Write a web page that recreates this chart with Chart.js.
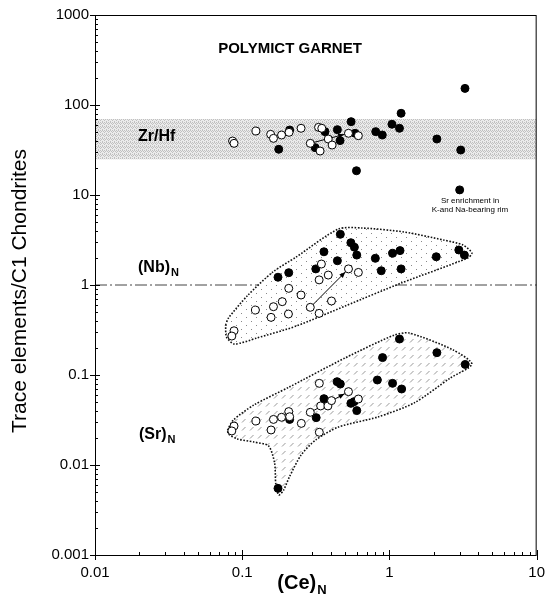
<!DOCTYPE html>
<html><head><meta charset="utf-8">
<script src="https://cdn.jsdelivr.net/npm/chart.js@4.4.1/dist/chart.umd.min.js"></script>
<style>html,body{margin:0;padding:0;background:#fff}canvas{display:block}</style>
</head><body>
<canvas id="c" width="554" height="605"></canvas>
<script>
// ---- tick labels ----
const xTickLabels = ['0.01','0.1','1','10'];
const yTickLabels = ['0.001','0.01','0.1','1','10','100','1000'];

// ---- data: [(Ce)N, value] ----
const zrHfOpen = [[0.086,39.8],[0.088,37.5],[0.124,51.4],[0.156,47.2],[0.163,42.6],[0.185,46.4],[0.208,49.7],[0.251,55.1],[0.330,56.5],[0.347,55.1],[0.290,37.5],[0.338,30.8],[0.384,41.9],[0.408,35.9],[0.527,48.5],[0.615,45.6]];
const zrHfClosed = [[0.177,32.2],[0.210,52.7],[0.313,33.6],[0.365,50.6],[0.443,53.2],[0.462,40.2],[0.549,65.3],[0.584,48.5],[0.597,18.6],[0.807,50.6],[0.894,46.4],[1.04,61.1],[1.17,55.1],[1.20,80.9],[2.10,41.9],[3.05,31.6],[3.26,153],[3.0,11.4]];

const nbOpen = [[0.088,0.310],[0.085,0.271],[0.123,0.527],[0.163,0.574],[0.157,0.437],[0.187,0.653],[0.207,0.918],[0.206,0.476],[0.251,0.774],[0.290,0.565],[0.333,0.484],[0.333,1.14],[0.345,1.71],[0.384,1.29],[0.404,0.664],[0.527,1.51],[0.615,1.38]];
const nbClosed = [[0.175,1.22],[0.207,1.37],[0.316,1.51],[0.359,2.34],[0.443,1.86],[0.464,3.66],[0.547,2.95],[0.578,2.63],[0.600,2.15],[0.802,1.98],[0.880,1.44],[1.05,2.25],[1.18,2.41],[1.20,1.51],[2.08,2.06],[2.96,2.45],[3.23,2.15]];

const srOpen = [[0.088,0.0271],[0.085,0.0239],[0.124,0.0308],[0.163,0.0321],[0.157,0.0245],[0.185,0.0339],[0.207,0.0392],[0.210,0.0344],[0.252,0.0290],[0.290,0.0385],[0.334,0.0808],[0.341,0.0453],[0.382,0.0453],[0.404,0.0519],[0.334,0.0231],[0.527,0.0653],[0.615,0.0541]];
const srClosed = [[0.210,0.0321],[0.318,0.0336],[0.359,0.0546],[0.441,0.0843],[0.464,0.0794],[0.175,0.0055],[0.547,0.0484],[0.575,0.0506],[0.600,0.0402],[0.828,0.0880],[0.898,0.156],[1.05,0.0808],[1.21,0.0699],[1.17,0.251],[2.10,0.177],[3.27,0.131]];

// rim-enrichment arrows: [fromCe, fromVal, toCe, toVal]
const arrows = [[0.290,37.5,0.527,48.5],[0.290,0.565,0.527,1.51],[0.290,0.0385,0.527,0.0653]];

// field envelopes (outline vertices)
const nbField = [[0.0771,0.359],[0.0807,0.430],[0.108,0.755],[0.161,1.39],[0.233,2.05],[0.450,4.19],[0.651,4.30],[1.26,3.88],[2.33,3.16],[3.16,2.78],[3.63,2.27],[3.41,2.0],[1.20,1.05],[0.501,0.585],[0.233,0.350],[0.126,0.258],[0.0885,0.221],[0.0782,0.264],[0.0771,0.359]];
const srField = [[0.0794,0.0245],[0.0871,0.0316],[0.120,0.0464],[0.209,0.0736],[0.501,0.155],[1.08,0.278],[1.36,0.293],[2.71,0.190],[3.63,0.132],[2.59,0.0926],[1.47,0.0489],[0.832,0.0341],[0.450,0.0264],[0.316,0.0190],[0.251,0.0129],[0.209,0.00736],[0.191,0.00527],[0.177,0.00464],[0.169,0.00615],[0.166,0.0105],[0.151,0.0163],[0.120,0.0180],[0.0927,0.0195],[0.0807,0.0221],[0.0794,0.0245]];

// chondritic Zr/Hf band and normalisation reference
const zrHfBand = [25, 70];
const chondriteLevel = 1;
const xRange = [0.01, 10];
const yRange = [0.001, 1000];

// ---- helpers ----
const pts = a => a.map(p => ({x:p[0], y:p[1]}));
const FONT = "'Liberation Sans', Arial, sans-serif";
const cv = document.getElementById('c');
const ctx = cv.getContext('2d');

function pattern(w,h,draw){
  const c=document.createElement('canvas');c.width=w;c.height=h;
  const g=c.getContext('2d');draw(g);return ctx.createPattern(c,'repeat');
}
const bandPat = pattern(4,4,g=>{g.fillStyle='#ebebeb';g.fillRect(0,0,4,4);g.fillStyle='#c0c0c0';
  [[0,0],[2,1],[0,2],[3,3],[1,3],[2,2]].forEach(p=>g.fillRect(p[0],p[1],1,1));});
const nbPat = pattern(10,8,g=>{g.fillStyle='#fff';g.fillRect(0,0,10,8);g.fillStyle='#8a8a8a';
  g.fillRect(1,1,1,1);g.fillRect(6,5,1,1);});
const srPat = pattern(8,8,g=>{g.fillStyle='#fff';g.fillRect(0,0,8,8);g.strokeStyle='#9a9a9a';g.lineWidth=1;
  g.beginPath();g.moveTo(2,6.5);g.lineTo(5.5,3);g.stroke();});

function majorTicks(lo,hi){const t=[];for(let e=lo;e<=hi;e++){for(let m=1;m<=9;m++){const v=m*Math.pow(10,e);if(e===hi&&m>1)break;t.push({value:+v.toPrecision(6)});}}return t;}
function labelFor(v, labels, lo){const k=Math.log10(v);const r=Math.round(k);return Math.abs(k-r)<1e-6?labels[r-lo]:'';}

const bandShape = [[xRange[0],zrHfBand[0]],[xRange[1],zrHfBand[0]],[xRange[1],zrHfBand[1]],[xRange[0],zrHfBand[1]],[xRange[0],zrHfBand[0]]];

const openStyle = {pointRadius:4,pointBackgroundColor:'#fff',pointBorderColor:'#000',pointBorderWidth:1,showLine:false,order:0};
const closedStyle = {pointRadius:4,pointBackgroundColor:'#000',pointBorderColor:'#000',pointBorderWidth:1,showLine:false,order:0};

const datasets = [
  {data:pts(zrHfOpen),...openStyle},
  {data:pts(zrHfClosed),...closedStyle},
  {data:pts(nbOpen),...openStyle},
  {data:pts(nbClosed),...closedStyle},
  {data:pts(srOpen),...openStyle},
  {data:pts(srClosed),...closedStyle},
  ...arrows.map(a=>({data:[{x:a[0],y:a[1]},{x:a[2],y:a[3]}],showLine:true,pointRadius:0,borderColor:'#000',borderWidth:1,order:2})),
  {data:pts(nbField),showLine:true,pointRadius:0,borderColor:'#111',borderWidth:1.6,borderDash:[1.6,1.6],backgroundColor:nbPat,fill:'shape',tension:0.25,order:5},
  {data:pts(srField),showLine:true,pointRadius:0,borderColor:'#111',borderWidth:1.6,borderDash:[1.6,1.6],backgroundColor:srPat,fill:'shape',tension:0.25,order:5},
  {data:[{x:xRange[0],y:chondriteLevel},{x:xRange[1],y:chondriteLevel}],showLine:true,pointRadius:0,borderColor:'#444',borderWidth:1,borderDash:[12,3,2,3],order:6},
  {data:pts(bandShape),showLine:true,pointRadius:0,borderWidth:0,borderColor:'rgba(0,0,0,0)',backgroundColor:bandPat,fill:'shape',order:7}
];

const decor = {
  id:'decor',
  afterDraw(chart){
    const {ctx:c, chartArea:a, scales:{x,y}} = chart;
    c.save();
    // frame
    c.strokeStyle='#000';c.lineWidth=1;
    c.strokeRect(a.left+0.5,a.top+0.5,a.right-a.left-1,a.bottom-a.top);
    // tick marks
    c.beginPath();
    x.ticks.forEach(t=>{const px=Math.round(x.getPixelForValue(t.value))+0.5;const k=Math.log10(t.value);const maj=Math.abs(k-Math.round(k))<1e-6;
      if(maj){c.moveTo(px,a.bottom-5);c.lineTo(px,a.bottom+5);}else{c.moveTo(px,a.bottom-3);c.lineTo(px,a.bottom);}});
    y.ticks.forEach(t=>{const py=Math.round(y.getPixelForValue(t.value))+0.5;const k=Math.log10(t.value);const maj=Math.abs(k-Math.round(k))<1e-6;
      if(maj){c.moveTo(a.left-5,py);c.lineTo(a.left+5,py);}else{c.moveTo(a.left,py);c.lineTo(a.left+3,py);}});
    c.stroke();
    // arrow heads
    c.fillStyle='#000';
    arrows.forEach(ar=>{const x0=x.getPixelForValue(ar[0]),y0=y.getPixelForValue(ar[1]),x1=x.getPixelForValue(ar[2]),y1=y.getPixelForValue(ar[3]);
      const ang=Math.atan2(y1-y0,x1-x0);const tx=x1-Math.cos(ang)*4.5,ty=y1-Math.sin(ang)*4.5;const L=6,W=2.5;
      c.beginPath();c.moveTo(tx,ty);c.lineTo(tx-L*Math.cos(ang)+W*Math.sin(ang),ty-L*Math.sin(ang)-W*Math.cos(ang));
      c.lineTo(tx-L*Math.cos(ang)-W*Math.sin(ang),ty-L*Math.sin(ang)+W*Math.cos(ang));c.closePath();c.fill();});
    // texts
    c.fillStyle='#000';c.textBaseline='middle';
    c.font='bold 15px '+FONT;c.textAlign='center';
    c.fillText('POLYMICT GARNET',290,49);
    c.textAlign='left';
    c.font='bold 16px '+FONT;c.fillText('Zr/Hf',138,137);
    const sub=(main,xx,yy)=>{c.font='bold 16px '+FONT;c.fillText(main,xx,yy);const w=c.measureText(main).width;c.font='bold 11px '+FONT;c.fillText('N',xx+w+1,yy+5);};
    sub('(Nb)',138,268);
    sub('(Sr)',139,435);
    c.font='8px '+FONT;c.textAlign='center';
    c.fillText('Sr enrichment in',470,201);
    c.fillText('K-and Na-bearing rim',470,210);
    // x title
    c.font='bold 20px '+FONT;const w1=c.measureText('(Ce)').width;c.font='bold 13px '+FONT;const w2=c.measureText('N').width;
    const cx=302-(w1+w2+1)/2;
    c.textAlign='left';c.font='bold 20px '+FONT;c.fillText('(Ce)',cx,583);
    c.font='bold 13px '+FONT;c.fillText('N',cx+w1+1,590);
    // y title
    c.save();c.translate(20,291);c.rotate(-Math.PI/2);c.textAlign='center';c.font='21px '+FONT;
    c.fillText('Trace elements/C1 Chondrites',0,0);c.restore();
    c.restore();
  }
};

new Chart(ctx,{
  type:'scatter',
  data:{datasets},
  options:{
    responsive:false,animation:false,devicePixelRatio:1,
    layout:{padding:{top:15,right:10,left:0,bottom:0}},
    plugins:{legend:{display:false},tooltip:{enabled:false}},
    scales:{
      x:{type:'logarithmic',min:xRange[0],max:xRange[1],
        afterBuildTicks:s=>{s.ticks=majorTicks(-2,1);},
        afterFit:s=>{s.height=50;},
        ticks:{autoSkip:false,maxRotation:0,padding:9,color:'#000',font:{family:FONT,size:15},callback:v=>labelFor(v,xTickLabels,-2)},
        grid:{display:false,drawTicks:false},border:{display:false}},
      y:{type:'logarithmic',min:yRange[0],max:yRange[1],
        afterBuildTicks:s=>{s.ticks=majorTicks(-3,3);},
        afterFit:s=>{s.width=95;},
        ticks:{autoSkip:false,padding:6,color:'#000',font:{family:FONT,size:15},callback:v=>labelFor(v,yTickLabels,-3)},
        grid:{display:false,drawTicks:false},border:{display:false}}
    }
  },
  plugins:[decor]
});
</script>
</body></html>
